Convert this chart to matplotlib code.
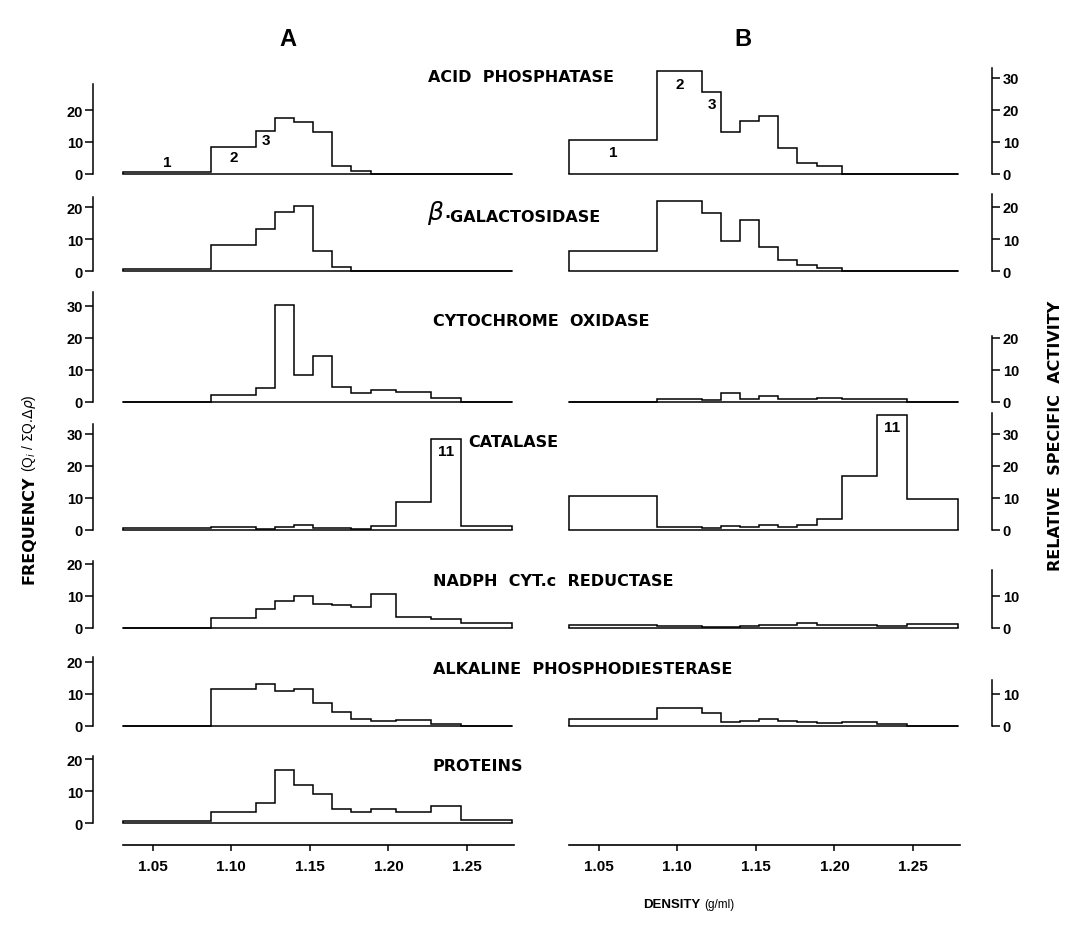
import matplotlib
matplotlib.use("Agg")
import matplotlib.pyplot as plt

plt.rcParams['font.family'] = ['Liberation Sans', 'DejaVu Sans']

W, H = 1068, 928

# density limits of the 12 gradient fractions (g/ml)
edges = [1.031, 1.087, 1.116, 1.128, 1.140, 1.152, 1.164, 1.176, 1.189, 1.205, 1.227, 1.246, 1.279]

# A: frequency, B: relative specific activity (one value per fraction)
acid_A = [0.7, 8.3, 13.5, 17.5, 16.3, 13.2, 2.4, 1.0, 0, 0, 0, 0]
galac_A = [0.5, 8.0, 13.2, 18.4, 20.3, 6.1, 1.3, 0, 0, 0, 0, 0]
cyto_A = [0, 2.2, 4.3, 30.3, 8.3, 14.4, 4.8, 2.7, 3.6, 3.2, 1.4, 0]
catal_A = [0.6, 1.0, 0.4, 1.0, 1.6, 0.7, 0.7, 0.2, 1.3, 8.8, 28.5, 1.3]
nadph_A = [0, 3.1, 5.9, 8.3, 9.9, 7.6, 7.3, 6.5, 10.7, 3.4, 2.8, 1.6]
alk_A = [0, 11.7, 13.0, 10.9, 11.5, 7.1, 4.4, 2.3, 1.5, 1.8, 0.5, 0]
prot_A = [0.5, 3.4, 6.3, 16.5, 11.8, 9.0, 4.4, 3.4, 4.4, 3.5, 5.2, 0.8]

acid_B = [10.6, 32.3, 25.5, 13.0, 16.7, 18.2, 8.0, 3.3, 2.4, 0, 0, 0]
galac_B = [6.4, 22.0, 18.2, 9.4, 16.0, 7.4, 3.4, 1.9, 1.0, 0, 0, 0]
cyto_B = [0, 1.0, 0.7, 2.9, 0.8, 1.9, 0.9, 0.9, 1.4, 1.0, 0.9, 0]
catal_B = [10.6, 1.0, 0.7, 1.3, 0.9, 1.6, 1.0, 1.6, 3.3, 16.9, 35.8, 9.8]
nadph_B = [0.8, 0.5, 0.3, 0.4, 0.6, 0.8, 1.0, 1.5, 1.0, 0.8, 0.6, 1.3]
alk_B = [2.1, 5.7, 4.2, 1.4, 1.6, 2.1, 1.6, 1.3, 0.8, 1.3, 0.5, 0]

labels = ["ACID  PHOSPHATASE", "\u00b7GALACTOSIDASE", "CYTOCHROME  OXIDASE", "CATALASE",
          "NADPH  CYT.c  REDUCTASE", "ALKALINE  PHOSPHODIESTERASE", "PROTEINS"]
series_A = [acid_A, galac_A, cyto_A, catal_A, nadph_A, alk_A, prot_A]
series_B = [acid_B, galac_B, cyto_B, catal_B, nadph_B, alk_B, None]

x_ticks = [1.05, 1.10, 1.15, 1.20, 1.25]
x_ticklabels = ["1.05", "1.10", "1.15", "1.20", "1.25"]

# layout (pixels): baseline of each row, y-axis extent and ticks
base_px = [175, 272, 403, 531, 629, 727, 824]
top_A = [28, 23, 34.5, 33, 20.8, 21.5, 20.8]
ticks_A = [[0, 10, 20], [0, 10, 20], [0, 10, 20, 30], [0, 10, 20, 30], [0, 10, 20], [0, 10, 20], [0, 10, 20]]
top_B = [33, 24, 20.5, 36.5, 18, 14.5, None]
ticks_B = [[0, 10, 20, 30], [0, 10, 20], [0, 10, 20], [0, 10, 20, 30], [0, 10], [0, 10], None]
label_x = [428, 444, 433, 468, 433, 433, 433]
label_y = [78, 217, 322, 443, 582, 670, 767]
PPU = 3.2  # pixels per unit on every y axis

A_X = (123, 514)
B_X = (569, 960)
XLIM = (1.031, 1.280)
PT = 72 / 100  # points per pixel
LW = 1.1

fig = plt.figure(figsize=(W / 100, H / 100), dpi=100)


def add_panel(xr, base, top):
    ax = fig.add_axes([xr[0] / W, 1 - base / H, (xr[1] - xr[0]) / W, top * PPU / H])
    ax.set_xlim(*XLIM)
    ax.set_ylim(0, top)
    ax.patch.set_visible(False)
    for s in ax.spines.values():
        s.set_visible(False)
    ax.set_xticks([])
    return ax


def draw_hist(ax, vals):
    ax.stairs(vals, edges, baseline=0, color='black', lw=LW, clip_on=False)
    ax.plot([edges[0], edges[-1]], [0, 0], color='black', lw=LW, clip_on=False)


for i in range(7):
    axA = add_panel(A_X, base_px[i], top_A[i])
    draw_hist(axA, series_A[i])
    axA.spines['left'].set_visible(True)
    axA.spines['left'].set_position(('outward', 30 * PT))
    axA.spines['left'].set_linewidth(1.1)
    axA.set_yticks(ticks_A[i])
    axA.tick_params(axis='y', direction='out', length=8 * PT, width=1.1, pad=1.5, labelsize=10.5)
    for t in axA.get_yticklabels():
        t.set_fontweight('bold')

    if series_B[i] is not None:
        axB = add_panel(B_X, base_px[i], top_B[i])
        draw_hist(axB, series_B[i])
        axB.spines['right'].set_visible(True)
        axB.spines['right'].set_position(('outward', 32 * PT))
        axB.spines['right'].set_linewidth(1.1)
        axB.yaxis.tick_right()
        axB.set_yticks(ticks_B[i])
        axB.tick_params(axis='y', direction='out', length=8 * PT, width=1.1, pad=2, labelsize=10.5)
        for t in axB.get_yticklabels():
            t.set_fontweight('bold')
    else:
        axB = None

    fig.text(label_x[i] / W, 1 - label_y[i] / H, labels[i], fontsize=11.5, fontweight='bold',
             family='DejaVu Sans', ha='left', va='center')

    # fraction numbers
    if i == 0:
        for k, dy in [(0, 3.2), (1, -3.0), (2, -3.0)]:
            axA.text((edges[k] + edges[k + 1]) / 2, acid_A[k] + dy, str(k + 1), ha='center', va='center',
                     fontsize=11, fontweight='bold')
        for k, dy in [(0, -3.8), (1, -4.2), (2, -3.6)]:
            axB.text((edges[k] + edges[k + 1]) / 2, acid_B[k] + dy, str(k + 1), ha='center', va='center',
                     fontsize=11, fontweight='bold')
    if i == 3:
        axA.text((edges[10] + edges[11]) / 2, catal_A[10] - 3.7, "11", ha='center', va='center',
                 fontsize=11, fontweight='bold')
        axB.text((edges[10] + edges[11]) / 2, catal_B[10] - 3.7, "11", ha='center', va='center',
                 fontsize=11, fontweight='bold')

# beta of beta-galactosidase
fig.text(427 / W, 1 - 213 / H, r'$\beta$', fontsize=18, ha='left', va='center',
         family='DejaVu Serif', style='italic')

# density axes
for xr in (A_X, B_X):
    ax = fig.add_axes([xr[0] / W, 1 - 846 / H, (xr[1] - xr[0]) / W, 0.001])
    ax.set_xlim(*XLIM)
    ax.patch.set_visible(False)
    for s in ('top', 'left', 'right'):
        ax.spines[s].set_visible(False)
    ax.spines['bottom'].set_linewidth(1.2)
    ax.set_yticks([])
    ax.set_xticks(x_ticks)
    ax.set_xticklabels(x_ticklabels, fontweight='bold', fontsize=11)
    ax.tick_params(axis='x', direction='out', length=6 * PT, width=1.1, pad=6)

fig.text(288 / W, 1 - 40 / H, "A", fontsize=17, fontweight='bold', ha='center', va='center')
fig.text(743 / W, 1 - 40 / H, "B", fontsize=17, fontweight='bold', ha='center', va='center')

fig.text(700 / W, 1 - 905 / H, "DENSITY", fontsize=9.5, fontweight='bold', ha='right', va='center')
fig.text(704 / W, 1 - 905 / H, "(g/ml)", fontsize=8.5, ha='left', va='center')

fig.text(29 / W, 1 - 530 / H, "FREQUENCY", fontsize=11.5, fontweight='bold', family='DejaVu Sans',
         rotation=90, ha='center', va='center')
fig.text(29 / W, 1 - 472 / H, r"(Q$_i$ / $\Sigma$Q.$\Delta\rho$)", fontsize=10, rotation=90,
         ha='center', va='bottom')

fig.text(1056 / W, 1 - 436 / H, "RELATIVE  SPECIFIC  ACTIVITY", fontsize=11.5, fontweight='bold',
         family='DejaVu Sans', rotation=90, ha='center', va='center')

fig.savefig("out.png", dpi=100)
